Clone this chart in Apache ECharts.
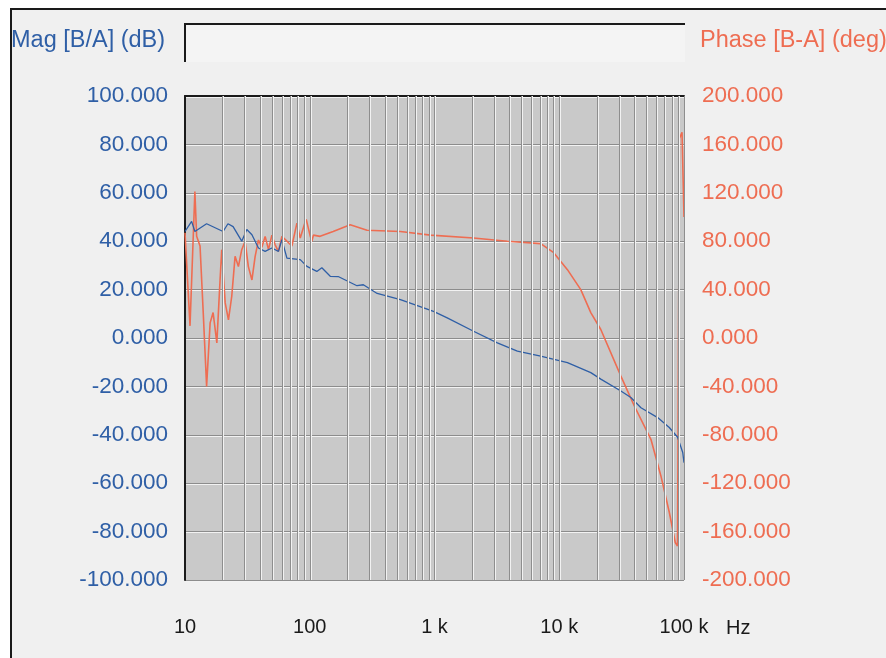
<!DOCTYPE html>
<html>
<head>
<meta charset="utf-8">
<script src="https://cdn.jsdelivr.net/npm/echarts@6/dist/echarts.min.js"></script>
<style>
html,body{margin:0;padding:0;background:#ffffff;}
#frame{position:absolute;left:10px;top:8px;width:900px;height:700px;background:#f0f0f0;border-left:2px solid #1a1a1a;border-top:2px solid #1a1a1a;}
#chart{position:absolute;left:0;top:0;width:886px;height:658px;}
</style>
</head>
<body>
<div id="frame"></div>
<div id="chart"></div>
<script>
// Magnitude trace [B/A] (dB)
var magFreq = [10, 10.3, 11.3, 12.0, 14.9, 20.2, 22.1, 24.3, 28.5, 31.3, 34.4, 38.8, 43.9, 49.7, 56.1, 59.8, 65.6, 83.9, 94.9, 114, 125, 146, 169, 239, 269, 347, 533, 982, 1265, 2056, 3190, 4616, 7097, 11630, 17900, 21530, 31190, 37500, 45190, 61500, 76200, 88900, 97700, 100000];
var magDb = [44, 44, 48.2, 44, 47.2, 44, 47.2, 46, 40, 44.8, 42.7, 37.2, 35.8, 37.2, 35.8, 40.6, 33, 32.4, 29.6, 27.5, 29, 25.5, 25.4, 21.6, 22, 18.4, 15.9, 11, 8.3, 2.8, -2, -5.4, -7.5, -10.2, -14.3, -17, -21.9, -24.6, -28.8, -32.9, -37, -41, -47.3, -51.5];

// Phase trace [B-A] (deg)
var phaseFreq = [10, 10.97, 12.0, 12.4, 13.2, 14.0, 14.9, 15.9, 16.8, 18.0, 19.1, 19.7, 21.0, 22.3, 23.7, 25.2, 26.8, 28.5, 30.3, 32.2, 34.4, 36.5, 38.8, 41.3, 43.9, 46.7, 49.7, 52.8, 56.1, 59.8, 65.6, 71.9, 78.9, 83.9, 92.0, 93.7, 101, 104, 107, 121, 154, 211, 288, 533, 929, 2056, 3837, 7097, 9030, 11630, 14880, 17900, 21530, 31190, 39900, 54300, 65300, 76200, 85100, 88700, 92000, 96400, 100000];
var phaseDeg = [87, 10, 121, 84, 76, 21, -40, 12.5, 21, -4, 48, 73, 29, 15, 34.5, 67.5, 59, 73, 80, 59, 48, 67.5, 81, 75, 84, 73, 85, 77, 71.6, 84, 80, 76, 95, 82.6, 96, 98, 84, 80, 85, 84, 88, 93.6, 89, 88, 85, 82.6, 80, 78, 70.5, 56.5, 40, 21, 7, -31.5, -56, -83.7, -114, -144, -169, -172, 165, 170, 100];

// Axis ticks
var freqTicks = [10, 100, 1000, 10000, 100000];
var freqTickLabels = ['10', '100', '1 k', '10 k', '100 k'];
var gridFreqs = [];
[10, 100, 1000, 10000].forEach(function (d) {
  for (var k = 2; k <= 10; k++) gridFreqs.push(d * k);
});
var magMin = -100, magMax = 100, magStep = 20;
var phaseMin = -200, phaseMax = 200, phaseStep = 40;

var magColor = '#2f5fa6';
var phaseColor = '#ee6d52';

function pair(xs, ys) { return xs.map(function (x, i) { return [x, ys[i]]; }); }

var chart = echarts.init(document.getElementById('chart'), null, {renderer: 'canvas'});
var fontFam = '"Liberation Sans", Arial, sans-serif';

chart.setOption({
  backgroundColor: 'transparent',
  animation: false,
  grid: {left: 185, top: 96, width: 499, height: 484, show: true, backgroundColor: '#c9c9c9', borderWidth: 0},
  xAxis: [{
    type: 'log', logBase: 10, min: 10, max: 100000, position: 'bottom',
    axisLine: {show: false, onZero: false}, axisTick: {show: false}, splitLine: {show: false},
    axisLabel: {
      color: '#1a1a1a', fontSize: 20, fontFamily: fontFam, margin: 37,
      formatter: function (v) {
        var i = freqTicks.indexOf(Math.round(v));
        return i >= 0 ? freqTickLabels[i] : '';
      }
    }
  }, {
    type: 'log', logBase: 10, min: 10, max: 100000, position: 'top',
    axisLine: {show: true, onZero: false, lineStyle: {color: '#1a1a1a', width: 2}},
    axisTick: {show: false}, axisLabel: {show: false}, splitLine: {show: false}
  }],
  yAxis: [{
    type: 'value', min: magMin, max: magMax, interval: magStep, position: 'left',
    axisLine: {show: true, onZero: false, lineStyle: {color: '#1a1a1a', width: 2}},
    axisTick: {show: false},
    axisLabel: {color: magColor, fontSize: 22.5, fontFamily: fontFam, margin: 17,
      formatter: function (v) { return v.toFixed(3); }},
    splitLine: {show: true, lineStyle: {color: '#8c8c8c', width: 1, shadowColor: '#f2f2f2', shadowOffsetY: 1, shadowBlur: 0}}
  }, {
    type: 'value', min: phaseMin, max: phaseMax, interval: phaseStep, position: 'right',
    axisLine: {show: false, onZero: false}, axisTick: {show: false},
    axisLabel: {color: phaseColor, fontSize: 22.5, fontFamily: fontFam, margin: 18,
      formatter: function (v) { return v.toFixed(3); }},
    splitLine: {show: false}
  }],
  graphic: [
    {type: 'rect', z: -5, shape: {x: 185, y: 24, width: 500, height: 38}, style: {fill: '#f4f4f4', stroke: null}},
    {type: 'polyline', z: -4, shape: {points: [[185, 62], [185, 24], [685, 24]]}, style: {stroke: '#1a1a1a', lineWidth: 2, fill: null}},
    {type: 'text', left: 11, top: 29, style: {text: 'Mag [B/A] (dB)', fill: magColor, font: '23.5px ' + fontFam}},
    {type: 'text', left: 700, top: 29, style: {text: 'Phase [B-A] (deg)', fill: phaseColor, font: '23.5px ' + fontFam}},
    {type: 'text', left: 726, top: 618, style: {text: 'Hz', fill: '#1a1a1a', font: '20px ' + fontFam}}
  ],
  series: [{
    type: 'line', name: 'grid', xAxisIndex: 0, yAxisIndex: 0, data: [], silent: true,
    markLine: {
      silent: true, symbol: 'none', label: {show: false},
      lineStyle: {color: '#8e8e8e', width: 1, type: 'solid', shadowColor: '#f2f2f2', shadowOffsetX: 1, shadowBlur: 0},
      data: gridFreqs.map(function (f) { return {xAxis: f}; })
    }
  }, {
    type: 'line', name: 'Phase [B-A]', xAxisIndex: 0, yAxisIndex: 1,
    data: pair(phaseFreq, phaseDeg), showSymbol: false, symbol: 'none',
    lineStyle: {color: phaseColor, width: 1.6}, z: 3
  }, {
    type: 'line', name: 'Mag [B/A]', xAxisIndex: 0, yAxisIndex: 0,
    data: pair(magFreq, magDb), showSymbol: false, symbol: 'none',
    lineStyle: {color: magColor, width: 1.3}, z: 4
  }]
});
</script>
</body>
</html>
